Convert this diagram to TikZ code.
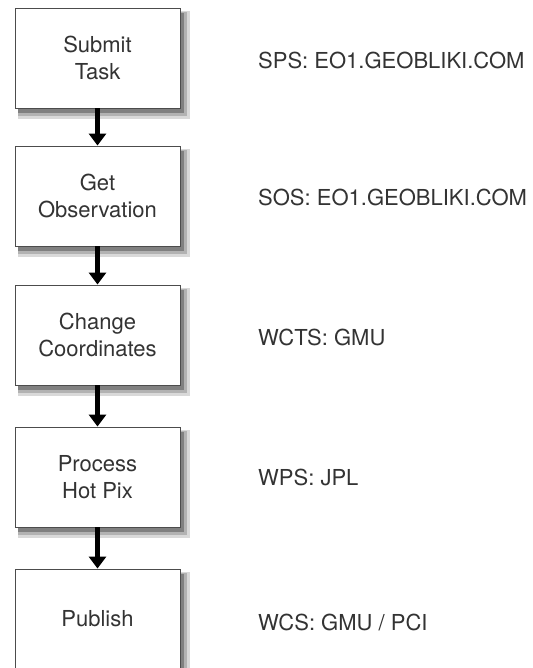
\documentclass[tikz,border=0pt]{standalone}
\usepackage{fontspec}
\setmainfont{TeX Gyre Heros}
\usetikzlibrary{arrows.meta}

\begin{document}
\begin{tikzpicture}[x=1pt,y=-1pt,
    task/.style={rectangle,draw=black!70,line width=0.9pt,fill=white,
      minimum width=165pt,minimum height=100pt,inner sep=0pt,align=center,
      text=black!80,font=\fontsize{22}{27}\selectfont},
    service/.style={anchor=west,inner sep=0pt,text=black!80,font=\fontsize{22}{27}\selectfont},
    flow/.style={-{Triangle[width=17pt,length=12pt]},line width=4.5pt,black}]
  \useasboundingbox (0,0) rectangle (532,668);
                % soft shadows behind the boxes
                \fill[gray!30] (18,11) rectangle (190,119);
                \fill[gray!60] (18,12) rectangle (187,116);
                \fill[gray] (18,13) rectangle (184,113);
                \fill[gray!30] (18,149) rectangle (190,257);
                \fill[gray!60] (18,150) rectangle (187,254);
                \fill[gray] (18,151) rectangle (184,251);
                \fill[gray!30] (18,288) rectangle (190,396);
                \fill[gray!60] (18,289) rectangle (187,393);
                \fill[gray] (18,290) rectangle (184,390);
                \fill[gray!30] (18,430) rectangle (190,538);
                \fill[gray!60] (18,431) rectangle (187,535);
                \fill[gray] (18,432) rectangle (184,532);
                \fill[gray!30] (18,572) rectangle (190,680);
                \fill[gray!60] (18,573) rectangle (187,677);
                \fill[gray] (18,574) rectangle (184,674);

                \node (a) at (97.5,58) [task] {Submit\\Task};
                \node (b) at (97.5,196) [task] {Get\\Observation};
                \node (c) at (97.5,335) [task] {Change\\Coordinates};
                \node (d) at (97.5,477) [task] {Process\\Hot Pix};
                \node (e) at (97.5,619) [task] {Publish};

                \node (sa) at (258,60) [service] {SPS: EO1.GEOBLIKI.COM};
                \node (sb) at (258,197) [service] {SOS: EO1.GEOBLIKI.COM};
                \node (sc) at (258,337) [service] {WCTS: GMU};
                \node (sd) at (258,477) [service] {WPS: JPL};
                \node (se) at (258,622) [service] {WCS: GMU / PCI};

                \draw[flow] (a) -- (b);
                \draw[flow] (b) -- (c);
                \draw[flow] (c) -- (d);
                \draw[flow] (d) -- (e);

            \end{tikzpicture}
\end{document}
